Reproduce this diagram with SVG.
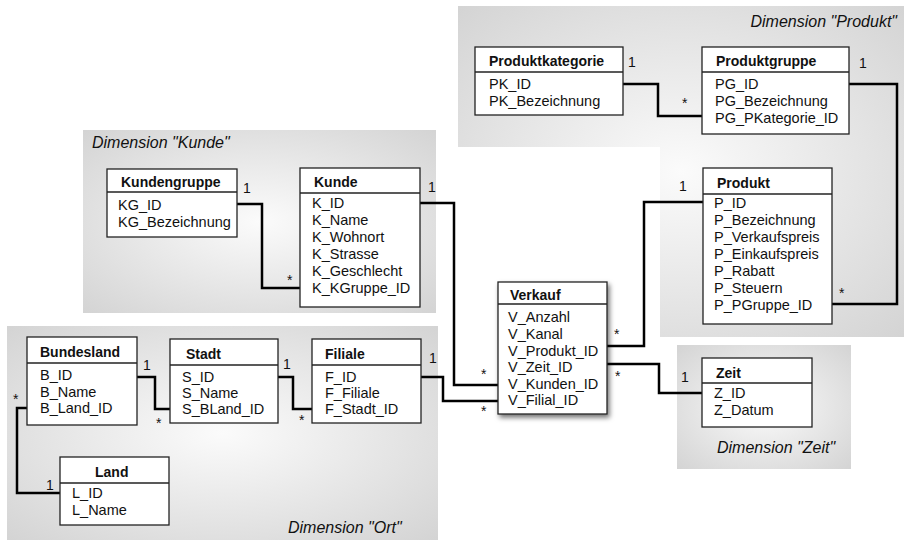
<svg xmlns="http://www.w3.org/2000/svg" width="907" height="546" viewBox="0 0 907 546">
  <style>
    .panel { stroke: none; }
    .box { fill: #ffffff; stroke: #222222; stroke-width: 1.3; }
    .sep { stroke: #222222; stroke-width: 1.3; }
    .head { font-family: "Liberation Sans", Arial, sans-serif; font-weight: bold; font-size: 14px; fill: #111111; }
    .fld { font-family: "Liberation Sans", Arial, sans-serif; font-size: 14.5px; fill: #111111; }
    .dim { font-family: "Liberation Sans", Arial, sans-serif; font-style: italic; font-size: 16px; fill: #111111; }
    .card { font-family: "Liberation Sans", Arial, sans-serif; font-size: 14px; fill: #111111; }
    .link { fill: none; stroke: #000000; stroke-width: 2.5; stroke-linejoin: miter; }
  </style>
  <defs>
    <radialGradient id="shade" cx="50%" cy="50%" r="70%">
      <stop offset="0%" stop-color="#fbfbfb"/>
      <stop offset="100%" stop-color="#d4d4d4"/>
    </radialGradient>
    <filter id="shadow" x="-20%" y="-20%" width="150%" height="150%">
      <feDropShadow dx="2" dy="3" stdDeviation="2.5" flood-color="#000000" flood-opacity="0.55"/>
    </filter>
  </defs>

  <!-- dimension panels -->
  <g id="panels">
    <path class="panel" fill="url(#shade)" d="M458,6 H904 V337 H660 V147 H458 Z"/>
    <rect class="panel" fill="url(#shade)" x="83" y="130" width="353" height="183"/>
    <rect class="panel" fill="url(#shade)" x="7" y="326" width="431" height="214"/>
    <rect class="panel" fill="url(#shade)" x="677" y="345" width="174" height="124"/>
    <text class="dim" x="897" y="27" text-anchor="end">Dimension "Produkt"</text>
    <text class="dim" x="92" y="148">Dimension "Kunde"</text>
    <text class="dim" x="288" y="533">Dimension "Ort"</text>
    <text class="dim" x="717" y="453">Dimension "Zeit"</text>
  </g>

  <!-- relationship lines -->
  <g id="connectors">
    <path class="link" d="M623,84 H658 V116 H702"/>
    <path class="link" d="M849,84 H897 V304 H832"/>
    <path class="link" d="M703,202 H644 V346 H607"/>
    <path class="link" d="M607,364 H659 V393 H702"/>
    <path class="link" d="M420,203 H454 V385 H498"/>
    <path class="link" d="M421,377 H443 V401 H498"/>
    <path class="link" d="M237,204 H262 V288 H300"/>
    <path class="link" d="M137,377 H155 V409 H170"/>
    <path class="link" d="M278,377 H293 V409 H312"/>
    <path class="link" d="M27,408 H17 V493 H60"/>
    <text class="card" x="628" y="67">1</text>
    <text class="card" x="682" y="108">*</text>
    <text class="card" x="859" y="68">1</text>
    <text class="card" x="839" y="298">*</text>
    <text class="card" x="679" y="191">1</text>
    <text class="card" x="614" y="339">*</text>
    <text class="card" x="615" y="381">*</text>
    <text class="card" x="681" y="382">1</text>
    <text class="card" x="481" y="379">*</text>
    <text class="card" x="481" y="416">*</text>
    <text class="card" x="428" y="192">1</text>
    <text class="card" x="243" y="193">1</text>
    <text class="card" x="287" y="285">*</text>
    <text class="card" x="143" y="370">1</text>
    <text class="card" x="156" y="428">*</text>
    <text class="card" x="283" y="369">1</text>
    <text class="card" x="299" y="425">*</text>
    <text class="card" x="429" y="363">1</text>
    <text class="card" x="13" y="404">*</text>
    <text class="card" x="46" y="490">1</text>
  </g>

  <g id="produktkategorie">
    <rect class="box" x="475" y="47" width="148" height="68"/>
    <line class="sep" x1="475" y1="72" x2="623" y2="72"/>
    <text class="head" x="489" y="66">Produktkategorie</text>
    <text class="fld" x="489" y="89">PK_ID</text>
    <text class="fld" x="489" y="106">PK_Bezeichnung</text>
  </g>

  <g id="produktgruppe">
    <rect class="box" x="702" y="47" width="147" height="87"/>
    <line class="sep" x1="702" y1="72" x2="849" y2="72"/>
    <text class="head" x="716" y="66">Produktgruppe</text>
    <text class="fld" x="715" y="89">PG_ID</text>
    <text class="fld" x="715" y="106">PG_Bezeichnung</text>
    <text class="fld" x="715" y="123">PG_PKategorie_ID</text>
  </g>

  <g id="produkt">
    <rect class="box" x="703" y="168" width="129" height="156"/>
    <line class="sep" x1="703" y1="194" x2="832" y2="194"/>
    <text class="head" x="717" y="188">Produkt</text>
    <text class="fld" x="714" y="208">P_ID</text>
    <text class="fld" x="714" y="225">P_Bezeichnung</text>
    <text class="fld" x="714" y="242">P_Verkaufspreis</text>
    <text class="fld" x="714" y="259">P_Einkaufspreis</text>
    <text class="fld" x="714" y="276">P_Rabatt</text>
    <text class="fld" x="714" y="293">P_Steuern</text>
    <text class="fld" x="714" y="310">P_PGruppe_ID</text>
  </g>

  <g id="kundengruppe">
    <rect class="box" x="107" y="169" width="130" height="68"/>
    <line class="sep" x1="107" y1="192" x2="237" y2="192"/>
    <text class="head" x="121" y="187">Kundengruppe</text>
    <text class="fld" x="118" y="210">KG_ID</text>
    <text class="fld" x="118" y="227">KG_Bezeichnung</text>
  </g>

  <g id="kunde">
    <rect class="box" x="300" y="168" width="120" height="139"/>
    <line class="sep" x1="300" y1="193" x2="420" y2="193"/>
    <text class="head" x="314" y="187">Kunde</text>
    <text class="fld" x="312" y="208">K_ID</text>
    <text class="fld" x="312" y="225">K_Name</text>
    <text class="fld" x="312" y="242">K_Wohnort</text>
    <text class="fld" x="312" y="259">K_Strasse</text>
    <text class="fld" x="312" y="276">K_Geschlecht</text>
    <text class="fld" x="312" y="293">K_KGruppe_ID</text>
  </g>

  <g id="verkauf">
    <rect class="box" x="498" y="282" width="109" height="132" filter="url(#shadow)"/>
    <line class="sep" x1="498" y1="304" x2="607" y2="304"/>
    <text class="head" x="510" y="300">Verkauf</text>
    <text class="fld" x="508" y="322">V_Anzahl</text>
    <text class="fld" x="508" y="339">V_Kanal</text>
    <text class="fld" x="508" y="356">V_Produkt_ID</text>
    <text class="fld" x="508" y="372">V_Zeit_ID</text>
    <text class="fld" x="508" y="389">V_Kunden_ID</text>
    <text class="fld" x="508" y="405">V_Filial_ID</text>
  </g>

  <g id="zeit">
    <rect class="box" x="702" y="358" width="110" height="69"/>
    <line class="sep" x1="702" y1="383" x2="812" y2="383"/>
    <text class="head" x="716" y="378">Zeit</text>
    <text class="fld" x="714" y="398">Z_ID</text>
    <text class="fld" x="714" y="415">Z_Datum</text>
  </g>

  <g id="bundesland">
    <rect class="box" x="27" y="337" width="110" height="88"/>
    <line class="sep" x1="27" y1="363" x2="137" y2="363"/>
    <text class="head" x="40" y="357">Bundesland</text>
    <text class="fld" x="40" y="380">B_ID</text>
    <text class="fld" x="40" y="397">B_Name</text>
    <text class="fld" x="40" y="413">B_Land_ID</text>
  </g>

  <g id="stadt">
    <rect class="box" x="170" y="339" width="108" height="84"/>
    <line class="sep" x1="170" y1="365" x2="278" y2="365"/>
    <text class="head" x="186" y="359">Stadt</text>
    <text class="fld" x="182" y="382">S_ID</text>
    <text class="fld" x="182" y="398">S_Name</text>
    <text class="fld" x="182" y="414">S_BLand_ID</text>
  </g>

  <g id="filiale">
    <rect class="box" x="312" y="339" width="109" height="84"/>
    <line class="sep" x1="312" y1="365" x2="421" y2="365"/>
    <text class="head" x="325" y="359">Filiale</text>
    <text class="fld" x="325" y="382">F_ID</text>
    <text class="fld" x="325" y="398">F_Filiale</text>
    <text class="fld" x="325" y="414">F_Stadt_ID</text>
  </g>

  <g id="land">
    <rect class="box" x="60" y="457" width="109" height="68"/>
    <line class="sep" x1="60" y1="483" x2="169" y2="483"/>
    <text class="head" x="95" y="477">Land</text>
    <text class="fld" x="72" y="498">L_ID</text>
    <text class="fld" x="72" y="515">L_Name</text>
  </g>
</svg>
